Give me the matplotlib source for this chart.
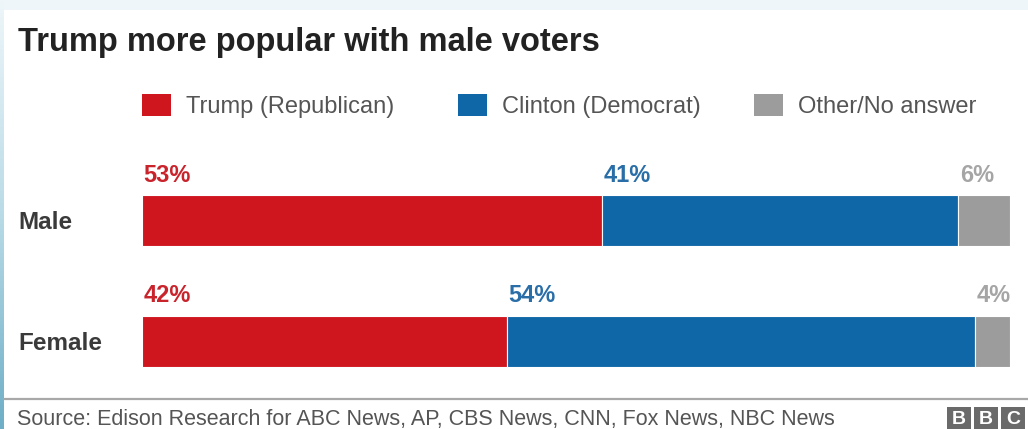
import numpy as np
import matplotlib.pyplot as plt
from matplotlib.patches import Rectangle
from matplotlib.lines import Line2D
from matplotlib.colors import LinearSegmentedColormap

plt.rcParams['font.family'] = ['Liberation Sans', 'DejaVu Sans']

# data
groups = ['Male', 'Female']
series = ['Trump (Republican)', 'Clinton (Democrat)', 'Other/No answer']
trump = [53, 42]
clinton = [41, 54]
other = [6, 4]

bar_colors = ['#cf151e', '#1067a7', '#9c9c9c']
label_colors = ['#c9232c', '#2a6ea8', '#a5a5a5']

W, H = 1028, 429


def fx(px):
    return px / W


def fy(py):
    return 1 - py / H


fig = plt.figure(figsize=(W / 100, H / 100), dpi=100)
fig.patch.set_facecolor('#eef6f9')

# white card
fig.add_artist(Rectangle((fx(4), 0), 1 - fx(4), fy(10), transform=fig.transFigure,
                         facecolor='white', edgecolor='none', zorder=0))

# blue stripe on the left edge
grad_ax = fig.add_axes([0, 0, fx(4), 1])
grad = np.linspace(0, 1, 256).reshape(-1, 1)
cm = LinearSegmentedColormap.from_list('edge', ['#eef6f9', '#b9dbe7', '#6eaec7'])
grad_ax.imshow(grad, aspect='auto', cmap=cm, extent=[0, 1, 1, 0])
grad_ax.axis('off')

# title
fig.text(fx(18), fy(51), 'Trump more popular with male voters', fontsize=23.5,
         fontweight='bold', color='#222222', va='baseline')

# legend, drawn by hand
leg_x = [142, 458, 754]
for name, col, x0 in zip(series, bar_colors, leg_x):
    fig.add_artist(Rectangle((fx(x0), fy(116)), fx(29), 22 / H, transform=fig.transFigure,
                             facecolor=col, edgecolor='none'))
    fig.text(fx(x0 + 44), fy(113), name, fontsize=17, color='#555555', va='baseline')

# bars
unit = 120.5
top_px, bot_px = 160, 390
ax = fig.add_axes([fx(142), fy(bot_px), fx(868), (bot_px - top_px) / H])
ax.set_xlim(0, 100)
ax.set_ylim(1 + (bot_px - 341) / unit, -(220.5 - top_px) / unit)

y = np.arange(len(groups))
bh = 51 / unit
left = np.zeros(len(groups))
for vals, col, lcol in zip([trump, clinton, other], bar_colors, label_colors):
    vals = np.array(vals)
    ax.barh(y, vals, left=left, height=bh, color=col, edgecolor='white', linewidth=0.8)
    for yi, l, v in zip(y, left, vals):
        ax.text(l + 0.2, yi - bh / 2 - 13 / unit, f'{v}%', fontsize=17, fontweight='bold',
                color=lcol, va='baseline', ha='left')
    left += vals

ax.set_yticks(y, labels=groups)
for lbl in ax.get_yticklabels():
    lbl.set_ha('left')
    lbl.set_fontweight('bold')
    lbl.set_color('#3a3a3a')
    lbl.set_fontsize(17.5)
ax.tick_params(axis='y', length=0, pad=124 * 72 / 100)
ax.set_xticks([])
for s in ax.spines.values():
    s.set_visible(False)
ax.patch.set_alpha(0)

# footer
fig.add_artist(Line2D([fx(4), 1], [fy(399), fy(399)], transform=fig.transFigure,
                      color='#a8a8a8', linewidth=1.6))
fig.text(fx(17), fy(425), 'Source: Edison Research for ABC News, AP, CBS News, CNN, Fox News, NBC News',
         fontsize=15.5, color='#555555', va='baseline')

# BBC blocks
for x0, ch in zip([947, 974, 1001], 'BBC'):
    fig.add_artist(Rectangle((fx(x0), fy(434)), fx(24), 27 / H, transform=fig.transFigure,
                             facecolor='#6a6a6a', edgecolor='none'))
    fig.text(fx(x0 + 12), fy(420), ch, fontsize=14, fontweight='bold', color='white',
             ha='center', va='center')

fig.savefig('out.png', dpi=100)
